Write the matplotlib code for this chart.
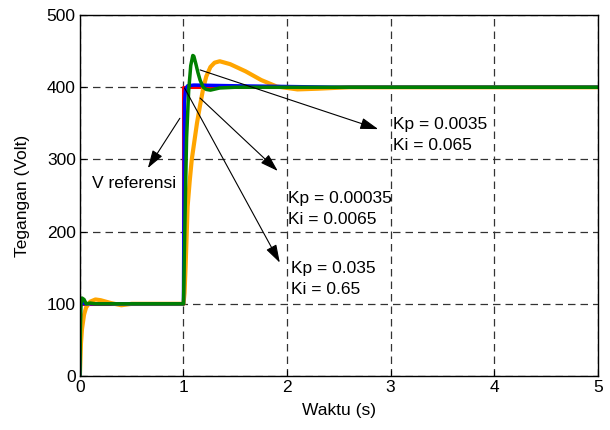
import matplotlib
matplotlib.use("Agg")
import matplotlib.pyplot as plt

plt.rcParams['font.family'] = ['Liberation Sans', 'DejaVu Sans']

# Reference signal
t_ref = [0.0, 1.0, 1.0, 5.0]
v_ref = [100, 100, 400, 400]

# Kp = 0.035, Ki = 0.65 (blue)
t_blue = [0.0, 0.005, 0.01, 0.02, 0.05, 1.0, 1.005, 1.01, 1.02, 1.04, 1.1, 1.5, 2.0, 2.5, 5.0]
v_blue = [0, 95, 100, 101, 100, 100, 250, 380, 398, 402, 403, 402, 401, 400, 400]

# Kp = 0.0035, Ki = 0.065 (green)
t_green = [0.0, 0.005, 0.01, 0.02, 0.04, 0.06, 0.1, 0.15, 0.3, 1.0, 1.01, 1.02, 1.03, 1.05, 1.07,
           1.09, 1.1, 1.12, 1.14, 1.16, 1.19, 1.22, 1.26, 1.35, 1.5, 2.0, 5.0]
v_green = [0, 70, 100, 108, 106, 100, 101, 100, 100, 100, 180, 260, 330, 395, 430,
           444, 443, 432, 420, 410, 400, 397, 396, 399, 400, 400, 400]

# Kp = 0.00035, Ki = 0.0065 (orange)
t_orange = [0.0, 0.01, 0.02, 0.04, 0.06, 0.1, 0.15, 0.2, 0.3, 0.4, 0.5, 0.7, 1.0, 1.01, 1.02, 1.04,
            1.06, 1.08, 1.1, 1.13, 1.16, 1.19, 1.22, 1.26, 1.3, 1.35, 1.45, 1.6, 1.75, 1.9,
            2.1, 2.3, 2.6, 3.0, 5.0]
v_orange = [0, 45, 65, 85, 95, 103, 106, 105, 101, 98, 100, 100, 100, 115, 150, 235,
            270, 300, 320, 350, 375, 398, 415, 428, 434, 436, 432, 422, 410, 401,
            397, 398, 400, 400, 400]

x_ticks = [0, 1, 2, 3, 4, 5]
y_ticks = [0, 100, 200, 300, 400, 500]

FS = 12.5

fig = plt.figure(figsize=(6.1, 4.3), dpi=100)
ax = fig.add_axes([0.131, 0.1256, 0.849, 0.8394])

ax.plot(t_ref, v_ref, color='red', lw=2.2)
ax.plot(t_orange, v_orange, color='#FFA500', lw=3.0)
ax.plot(t_blue, v_blue, color='blue', lw=2.5)
ax.plot(t_green, v_green, color='#008000', lw=2.5)

ax.set_xlim(0, 5)
ax.set_ylim(0, 500)
ax.set_xticks(x_ticks)
ax.set_yticks(y_ticks)
ax.grid(True, linestyle=(0, (6, 4)), color='#333333', lw=0.9)
ax.tick_params(labelsize=FS, direction='in', length=4, pad=3)
for s in ax.spines.values():
    s.set_linewidth(1.0)
ax.set_xlabel('Waktu (s)', fontsize=FS, labelpad=6)
ax.set_ylabel('Tegangan (Volt)', fontsize=FS, labelpad=12)

astyle = dict(arrowstyle='-|>,head_length=1.1,head_width=0.35', color='black', lw=0.8,
              shrinkA=0, shrinkB=0)

ax.annotate('', xy=(0.656, 288), xytext=(0.965, 357), arrowprops=astyle)
ax.text(0.115, 266, 'V referensi', fontsize=FS, va='center', ha='left')

ax.annotate('', xy=(2.88, 342), xytext=(1.16, 424), arrowprops=astyle)
ax.text(3.02, 334, 'Kp = 0.0035\nKi = 0.065', fontsize=FS, va='center', ha='left', linespacing=1.48)

ax.annotate('', xy=(1.91, 284), xytext=(1.16, 385), arrowprops=astyle)
ax.text(2.01, 231, 'Kp = 0.00035\nKi = 0.0065', fontsize=FS, va='center', ha='left', linespacing=1.48)

ax.annotate('', xy=(1.93, 157), xytext=(1.01, 399), arrowprops=astyle)
ax.text(2.04, 134, 'Kp = 0.035\nKi = 0.65', fontsize=FS, va='center', ha='left', linespacing=1.48)

fig.savefig('out.png', dpi=100)
